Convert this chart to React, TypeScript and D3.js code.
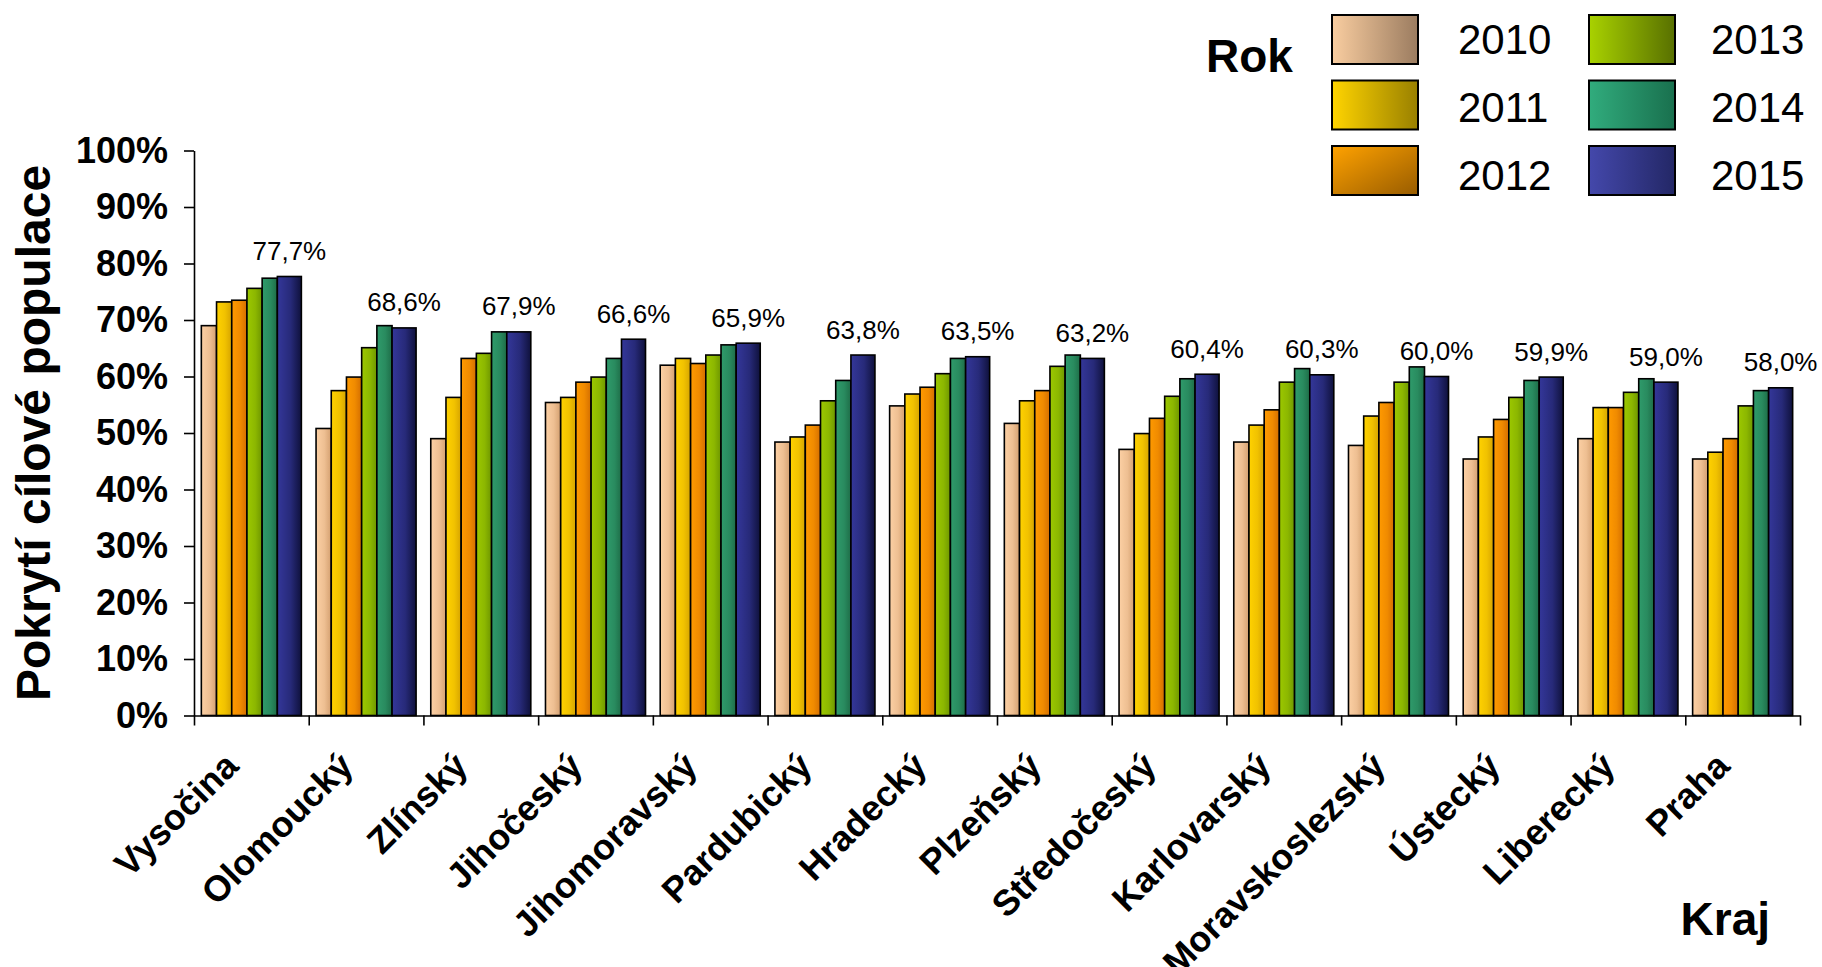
import { useEffect, useRef } from 'react';
import * as d3 from 'd3';

// Kraje in display order
const regions = [
    'Vysočina', 'Olomoucký', 'Zlínský', 'Jihočeský', 'Jihomoravský', 'Pardubický', 'Hradecký',
    'Plzeňský', 'Středočeský', 'Karlovarský', 'Moravskoslezský', 'Ústecký', 'Liberecký', 'Praha'
];

const years = ['2010', '2011', '2012', '2013', '2014', '2015'];

// coverage in %
const v2010 = [69.0, 50.8, 49.0, 55.4, 62.0, 48.4, 54.8, 51.7, 47.1, 48.4, 47.8, 45.4, 49.0, 45.4];
const v2011 = [73.2, 57.5, 56.3, 56.3, 63.2, 49.3, 56.9, 55.7, 49.9, 51.4, 53.0, 49.3, 54.5, 46.6];
const v2012 = [73.5, 59.9, 63.2, 59.0, 62.3, 51.4, 58.1, 57.5, 52.6, 54.1, 55.4, 52.4, 54.5, 49.0];
const v2013 = [75.6, 65.1, 64.1, 59.9, 63.8, 55.7, 60.5, 61.8, 56.5, 59.0, 59.0, 56.3, 57.2, 54.8];
const v2014 = [77.4, 69.0, 67.9, 63.2, 65.6, 59.3, 63.2, 63.8, 59.6, 61.4, 61.7, 59.3, 59.6, 57.5];
const v2015 = [77.7, 68.6, 67.9, 66.6, 65.9, 63.8, 63.5, 63.2, 60.4, 60.3, 60.0, 59.9, 59.0, 58.0];

const series = [v2010, v2011, v2012, v2013, v2014, v2015];

const yTicks = [0, 10, 20, 30, 40, 50, 60, 70, 80, 90, 100];

// bar fills (light -> dark) and legend fills
const barColors: [string, string][] = [
    ['#FCD0A4', '#D4A070'],
    ['#FFD200', '#D6A400'],
    ['#FF9A00', '#D46E00'],
    ['#9CC800', '#6E9600'],
    ['#2F9B6B', '#1E6D48'],
    ['#34379A', '#0F113C']
];
const legendColors: [string, string][] = [
    ['#F9CDA0', '#9B7C60'],
    ['#FFD400', '#998000'],
    ['#FFA200', '#985C00'],
    ['#A9D200', '#587000'],
    ['#31AC7D', '#19704E'],
    ['#4448AB', '#232766']
];

// the 2015 bar is drawn wider in the original
const barWeights = [1, 1, 1, 1, 1, 1.58];

const FONT = '"Liberation Sans", Arial, sans-serif';

const App = () => {
    const svgRef = useRef<SVGSVGElement>(null);
    const width = 1822;
    const height = 967;

    useEffect(() => {
        if (!svgRef.current) return;
        const svg = d3.select(svgRef.current);
        svg.selectAll('*').remove();

        const defs = svg.append('defs');
        barColors.forEach((c, i) => {
            const g = defs.append('linearGradient')
                .attr('id', `bar${i}`)
                .attr('x1', 0).attr('x2', 1).attr('y1', 0).attr('y2', 0);
            g.append('stop').attr('offset', 0).attr('stop-color', c[0]);
            g.append('stop').attr('offset', 0.55).attr('stop-color', d3.interpolateRgb(c[0], c[1])(0.35));
            g.append('stop').attr('offset', 1).attr('stop-color', c[1]);
        });
        legendColors.forEach((c, i) => {
            const g = defs.append('linearGradient')
                .attr('id', `leg${i}`)
                .attr('x1', 0).attr('x2', 1).attr('y1', 0).attr('y2', i === 2 ? 1 : 0);
            g.append('stop').attr('offset', 0).attr('stop-color', c[0]);
            g.append('stop').attr('offset', 1).attr('stop-color', c[1]);
        });

        // scales
        const y = d3.scaleLinear().domain([0, 100]).range([715.5, 150.5]);
        const x0 = d3.scaleBand<string>()
            .domain(regions)
            .range([194, 1800])
            .paddingInner(0.128)
            .paddingOuter(0.064);
        const cum = d3.cumsum([0, ...barWeights]);
        const xi = d3.scaleLinear().domain([0, d3.sum(barWeights)]).range([0, x0.bandwidth()]);

        // bars
        const groups = svg.append('g')
            .selectAll('g')
            .data(regions)
            .enter()
            .append('g')
            .attr('transform', d => `translate(${x0(d)},0)`);

        groups.selectAll('rect')
            .data((_, ri) => series.map((s, si) => ({ si, v: s[ri] })))
            .enter()
            .append('rect')
            .attr('x', d => xi(cum[d.si]))
            .attr('width', d => xi(cum[d.si + 1]) - xi(cum[d.si]))
            .attr('y', d => y(d.v))
            .attr('height', d => y(0) - y(d.v))
            .attr('fill', d => `url(#bar${d.si})`)
            .attr('stroke', '#000')
            .attr('stroke-width', 1.6);

        // value labels above 2015 bars
        const fmt = d3.format('.1f');
        groups.append('text')
            .attr('x', (xi(cum[5]) + xi(cum[6])) / 2)
            .attr('y', (_, ri) => y(v2015[ri]) - 16.5)
            .attr('text-anchor', 'middle')
            .style('font-family', FONT)
            .style('font-size', '26px')
            .attr('fill', '#000')
            .text((_, ri) => fmt(v2015[ri]).replace('.', ',') + '%');

        // y axis
        const yAxis = svg.append('g')
            .attr('transform', 'translate(194,0)')
            .call(d3.axisLeft(y)
                .tickValues(yTicks)
                .tickSize(10)
                .tickSizeOuter(0)
                .tickPadding(16)
                .tickFormat(d => `${d}%`));
        yAxis.select('.domain').attr('stroke', '#000').attr('stroke-width', 1.6);
        yAxis.selectAll('.tick line').attr('stroke', '#000').attr('stroke-width', 1.6);
        yAxis.selectAll('.tick text')
            .style('font-family', FONT)
            .style('font-size', '36px')
            .style('font-weight', 'bold')
            .attr('fill', '#000');

        // x axis: ticks sit on the category boundaries
        const bounds = d3.range(regions.length + 1).map(k => x0.range()[0] + k * x0.step());
        const xb = d3.scaleLinear().domain([0, regions.length]).range([bounds[0], bounds[regions.length]]);
        const xAxis = svg.append('g')
            .attr('transform', `translate(0,${y(0)})`)
            .call(d3.axisBottom(xb)
                .tickValues(d3.range(regions.length + 1))
                .tickSize(10)
                .tickSizeOuter(0)
                .tickFormat(() => ''));
        xAxis.select('.domain').attr('stroke', '#000').attr('stroke-width', 1.6);
        xAxis.selectAll('.tick line').attr('stroke', '#000').attr('stroke-width', 1.6);

        // category labels, rotated
        svg.append('g')
            .selectAll('text')
            .data(regions)
            .enter()
            .append('text')
            .attr('transform', d => `translate(${(x0(d) as number) + x0.bandwidth() / 2 - 11},768) rotate(-45)`)
            .attr('text-anchor', 'end')
            .style('font-family', FONT)
            .style('font-size', '36px')
            .style('font-weight', 'bold')
            .attr('fill', '#000')
            .text(d => d);

        // axis titles
        svg.append('text')
            .attr('transform', 'translate(50,433) rotate(-90)')
            .attr('text-anchor', 'middle')
            .style('font-family', FONT)
            .style('font-size', '48px')
            .style('font-weight', 'bold')
            .attr('fill', '#000')
            .text('Pokrytí cílové populace');

        svg.append('text')
            .attr('x', 1770)
            .attr('y', 935)
            .attr('text-anchor', 'end')
            .style('font-family', FONT)
            .style('font-size', '46px')
            .style('font-weight', 'bold')
            .attr('fill', '#000')
            .text('Kraj');

        // legend
        const legend = svg.append('g');
        legend.append('text')
            .attr('x', 1206)
            .attr('y', 72)
            .style('font-family', FONT)
            .style('font-size', '46px')
            .style('font-weight', 'bold')
            .attr('fill', '#000')
            .text('Rok');

        const colX = [1332, 1589];
        const textX = [1458, 1711];
        const items = legend.selectAll('g.item')
            .data(years)
            .enter()
            .append('g')
            .attr('class', 'item');
        items.append('rect')
            .attr('x', (_, i) => colX[Math.floor(i / 3)])
            .attr('y', (_, i) => 15 + (i % 3) * 65.5)
            .attr('width', 86)
            .attr('height', 49)
            .attr('fill', (_, i) => `url(#leg${i})`)
            .attr('stroke', '#000')
            .attr('stroke-width', 2);
        items.append('text')
            .attr('x', (_, i) => textX[Math.floor(i / 3)])
            .attr('y', (_, i) => 54 + (i % 3) * 68)
            .style('font-family', FONT)
            .style('font-size', '42px')
            .attr('fill', '#000')
            .text(d => d);
    }, []);

    return (
        <svg
            ref={svgRef}
            width={width}
            height={height}
            style={{ position: 'absolute', left: 0, top: 0, background: '#fff' }}
            role="img"
            aria-label="Pokrytí cílové populace podle krajů 2010–2015"
        />
    );
};

export default App;
